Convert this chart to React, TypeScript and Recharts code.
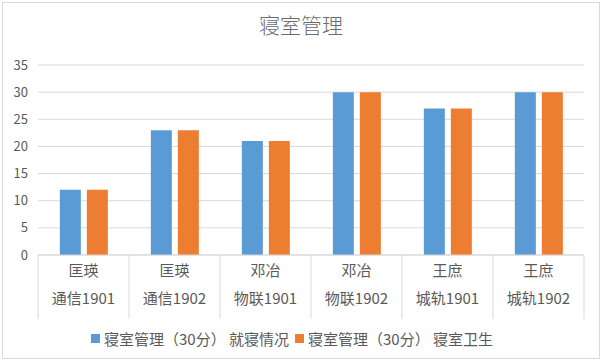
import React from "react";
import { BarChart, Bar, XAxis, YAxis, CartesianGrid, Legend } from "recharts";

const categories = [
  "匡瑛\n通信1901",
  "匡瑛\n通信1902",
  "邓冶\n物联1901",
  "邓冶\n物联1902",
  "王庶\n城轨1901",
  "王庶\n城轨1902",
];
const sleepScores = [12, 23, 21, 30, 27, 30];
const hygieneScores = [12, 23, 21, 30, 27, 30];
const yTicks = [0, 5, 10, 15, 20, 25, 30, 35];

const SERIES_A = "寝室管理（30分） 就寝情况";
const SERIES_B = "寝室管理（30分） 寝室卫生";
const BLUE = "#5b9bd5";
const ORANGE = "#ed7d31";

const data = categories.map((name, i) => ({
  name,
  a: sleepScores[i],
  b: hygieneScores[i],
}));

const FONT = "'Noto Sans CJK SC', 'Noto Sans', sans-serif";
const TEXT = "#595959";
const GRID = "#d9d9d9";
const BAND = 546 / 6;

function CategoryTick(props: any) {
  const { x, y, payload, index } = props;
  const lines = String(payload.value).split("\n");
  const top = y - 8;
  return (
    <g>
      <line x1={x - BAND / 2} x2={x - BAND / 2} y1={top} y2={top + 64} stroke={GRID} />
      {index === categories.length - 1 && (
        <line x1={x + BAND / 2} x2={x + BAND / 2} y1={top} y2={top + 64} stroke={GRID} />
      )}
      {lines.map((l, i) => (
        <text
          key={i}
          x={x}
          y={top + 21 + i * 28}
          textAnchor="middle"
          fill={TEXT}
          fontSize={15}
          fontFamily={FONT}
        >
          {l}
        </text>
      ))}
    </g>
  );
}

function LegendBox() {
  const items = [
    { name: SERIES_A, color: BLUE },
    { name: SERIES_B, color: ORANGE },
  ];
  return (
    <div
      style={{
        display: "flex",
        justifyContent: "center",
        alignItems: "center",
        gap: 6,
        fontSize: 15,
        fontFamily: FONT,
        color: TEXT,
      }}
    >
      {items.map((it) => (
        <span key={it.name} style={{ display: "flex", alignItems: "center" }}>
          <span
            style={{
              display: "inline-block",
              width: 9,
              height: 9,
              background: it.color,
              marginRight: 4,
            }}
          />
          {it.name}
        </span>
      ))}
    </div>
  );
}

export default function App() {
  return (
    <div
      style={{
        position: "absolute",
        left: 0,
        top: 0,
        width: 602,
        height: 361,
        background: "#fff",
        fontFamily: FONT,
      }}
    >
      <div
        style={{
          position: "absolute",
          left: 2,
          top: 2,
          width: 596,
          height: 355,
          border: `1px solid ${GRID}`,
        }}
      />
      <div
        style={{
          position: "absolute",
          left: 0,
          top: 9,
          width: 602,
          textAlign: "center",
          fontSize: 21,
          color: "#6b6b6b",
          fontWeight: 300,
        }}
      >
        寝室管理
      </div>
      <BarChart
        width={602}
        height={361}
        data={data}
        margin={{ top: 65, right: 18, left: 0, bottom: 20 }}
        barCategoryGap="24%"
        barGap={6}
      >
        <CartesianGrid vertical={false} stroke={GRID} />
        <XAxis
          dataKey="name"
          interval={0}
          tickLine={false}
          axisLine={{ stroke: GRID }}
          height={65}
          tick={<CategoryTick />}
        />
        <YAxis
          width={38}
          domain={[0, 35]}
          ticks={yTicks}
          tickLine={false}
          axisLine={false}
          tickMargin={4}
          tick={{ fill: TEXT, fontSize: 13, fontFamily: FONT }}
        />
        <Legend
          verticalAlign="bottom"
          content={<LegendBox />}
          wrapperStyle={{ bottom: 12 }}
        />
        <Bar dataKey="a" name={SERIES_A} fill={BLUE} isAnimationActive={false} />
        <Bar dataKey="b" name={SERIES_B} fill={ORANGE} isAnimationActive={false} />
      </BarChart>
    </div>
  );
}
